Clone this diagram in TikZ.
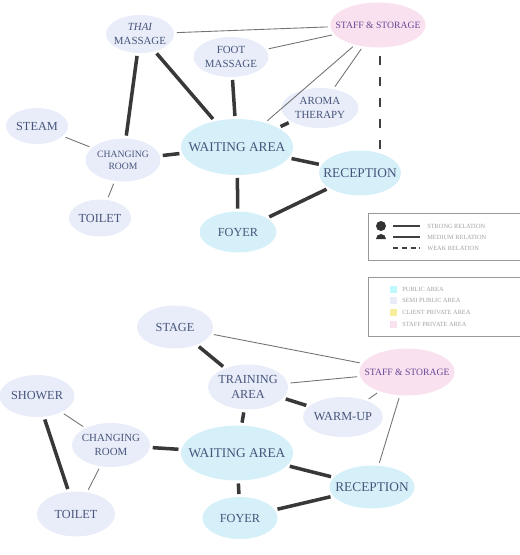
\documentclass[tikz,border=0pt]{standalone}
\usepackage{fontspec}
\setmainfont{Liberation Serif}
\usetikzlibrary{shapes.geometric}

\definecolor{publicfill}{HTML}{D6F0FA}
\definecolor{semifill}{HTML}{E9EDFA}
\definecolor{stafffill}{HTML}{FAE1EF}
\definecolor{clientfill}{HTML}{F6EE9C}
\definecolor{labeltext}{HTML}{46557A}
\definecolor{legendtext}{HTML}{A0A0A8}

\newcommand{\labelS}{\fontsize{5.5}{7}\selectfont}
\newcommand{\labelM}{\fontsize{6.2}{7.8}\selectfont}
\newcommand{\labelL}{\fontsize{7}{8.4}\selectfont}
\newcommand{\labelXL}{\fontsize{7.6}{9}\selectfont}

\tikzset{
  room/.style={ellipse, draw=none, inner sep=-5pt, align=center, text=labeltext},
  public/.style={room, fill=publicfill},
  semi/.style={room, fill=semifill},
  staff/.style={room, fill=stafffill, text=labeltext!80!magenta},
  strong/.style={line width=2pt, draw=black!78, shorten >=1.5pt, shorten <=1.5pt},
  minor/.style={line width=0.5pt, draw=black!55, shorten >=1.5pt, shorten <=1.5pt},
  weak/.style={line width=1.6pt, draw=black!75, dash pattern=on 5pt off 7pt},
  legendbox/.style={draw=black!40, line width=0.4pt},
  legendlabel/.style={anchor=west, inner sep=0pt, text=legendtext, font=\fontsize{3.6}{4}\selectfont},
  swatch/.style={draw=none, minimum size=0.14cm, inner sep=0pt}
}

\begin{document}
\begin{tikzpicture}[x=0.02cm, y=-0.02cm]
  \useasboundingbox (0,0) rectangle (520,555);

  % Nodes, spa plan
  \node (thai) [semi, font=\labelM, minimum width=1.36cm, minimum height=0.76cm] at (140,34) {\itshape THAI\\MASSAGE};
  \node (staff-a) [staff, font=\labelS, minimum width=1.64cm, minimum height=0.9cm] at (378,25) {STAFF \& STORAGE};
  \node (foot) [semi, font=\labelM, minimum width=1.5cm, minimum height=0.8cm] at (231,57) {FOOT\\MASSAGE};
  \node (aroma) [semi, font=\labelM, minimum width=1.54cm, minimum height=0.8cm] at (320,108) {AROMA\\THERAPY};
  \node (steam) [semi, font=\labelL, minimum width=1.24cm, minimum height=0.72cm] at (37,126) {STEAM};
  \node (changing-a) [semi, font=\labelS, minimum width=1.5cm, minimum height=0.86cm] at (123,160) {CHANGING\\ROOM};
  \node (waiting-a) [public, font=\labelXL, minimum width=2.24cm, minimum height=1.12cm] at (237,147) {WAITING AREA};
  \node (reception-a) [public, font=\labelXL, minimum width=1.64cm, minimum height=0.9cm] at (360,173) {RECEPTION};
  \node (toilet-a) [semi, font=\labelL, minimum width=1.24cm, minimum height=0.74cm] at (100,218) {TOILET};
  \node (foyer-a) [public, font=\labelL, minimum width=1.54cm, minimum height=0.82cm] at (238,232) {FOYER};

  % Edges, spa plan
  \draw[minor] (thai) -- (staff-a);
  \draw[minor] (foot) -- (staff-a);
  \draw[minor] (waiting-a) -- (staff-a);
  \draw[minor] (aroma) -- (staff-a);
  \draw[weak] (staff-a.south) ++(2,8) coordinate (weak-top) -- (weak-top |- reception-a.north);
  \draw[strong] (thai) -- (changing-a);
  \draw[strong] (thai) -- (waiting-a);
  \draw[strong] (foot) -- (waiting-a);
  \draw[strong] (aroma) -- (waiting-a);
  \draw[minor] (steam) -- (changing-a);
  \draw[strong] (changing-a) -- (waiting-a);
  \draw[minor] (changing-a) -- (toilet-a);
  \draw[strong] (waiting-a) -- (reception-a);
  \draw[strong] (waiting-a) -- (foyer-a);
  \draw[strong] (foyer-a) -- (reception-a);

  % Legend, relations
  \draw[legendbox] (525,213) -| (368,260) -- (525,260);
  \node (dot-strong) [circle, fill=black!80, minimum size=0.2cm, inner sep=0pt] at (381,226) {};
  \node (dot-medium) [semicircle, fill=black!80, minimum width=0.2cm, inner sep=0pt] at (381,237) {};
  \coordinate (line-strong) at (393,226);
  \coordinate (line-medium) at (393,237);
  \coordinate (line-weak) at (393,248);
  \node (txt-strong) [legendlabel] at (427,226) {STRONG RELATION};
  \node (txt-medium) [legendlabel] at (427,237) {MEDIUM RELATION};
  \node (txt-weak) [legendlabel] at (427,248) {WEAK RELATION};
  \draw[line width=1.6pt, draw=black!75] (line-strong) -- (txt-strong.west -| 420,0);
  \draw[line width=0.6pt, draw=black!75] (line-medium) -- (txt-medium.west -| 420,0);
  \draw[line width=0.7pt, draw=black!75, dash pattern=on 3pt off 2pt] (line-weak) -- (txt-weak.west -| 420,0);

  % Legend, areas
  \draw[legendbox] (525,277) -| (368,336) -- (525,336);
  \node (sw-public) [swatch, fill=publicfill!70!cyan!60] at (393,289) {};
  \node (sw-semi) [swatch, fill=semifill] at (393,300) {};
  \node (sw-client) [swatch, fill=clientfill] at (393,312) {};
  \node (sw-staff) [swatch, fill=stafffill] at (393,324) {};
  \node (txt-public) [legendlabel] at (402,289) {PUBLIC AREA};
  \node (txt-semi) [legendlabel] at (402,300) {SEMI PUBLIC AREA};
  \node (txt-client) [legendlabel] at (402,312) {CLIENT PRIVATE AREA};
  \node (txt-staff) [legendlabel] at (402,324) {STAFF PRIVATE AREA};

  % Nodes, studio plan
  \node (stage) [semi, font=\labelL, minimum width=1.52cm, minimum height=0.86cm] at (175,327) {STAGE};
  \node (staff-b) [staff, font=\labelS, minimum width=1.7cm, minimum height=0.94cm] at (407,372) {STAFF \& STORAGE};
  \node (training) [semi, font=\labelL, minimum width=1.6cm, minimum height=0.9cm] at (248,387) {TRAINING\\AREA};
  \node (shower) [semi, font=\labelL, minimum width=1.5cm, minimum height=0.84cm] at (37,396) {SHOWER};
  \node (warm-up) [semi, font=\labelL, minimum width=1.6cm, minimum height=0.8cm] at (343,417) {WARM-UP};
  \node (changing-b) [semi, font=\labelM, minimum width=1.56cm, minimum height=0.88cm] at (111,445) {CHANGING\\ROOM};
  \node (waiting-b) [public, font=\labelXL, minimum width=2.14cm, minimum height=1.1cm] at (237,453) {WAITING AREA};
  \node (reception-b) [public, font=\labelXL, minimum width=1.7cm, minimum height=0.86cm] at (372,487) {RECEPTION};
  \node (toilet-b) [semi, font=\labelL, minimum width=1.56cm, minimum height=0.9cm] at (76,514) {TOILET};
  \node (foyer-b) [public, font=\labelL, minimum width=1.5cm, minimum height=0.84cm] at (240,518) {FOYER};

  % Edges, studio plan
  \draw[minor] (stage) -- (staff-b);
  \draw[strong] (stage) -- (training);
  \draw[minor] (training) -- (staff-b);
  \draw[strong] (training) -- (warm-up);
  \draw[minor] (warm-up) -- (staff-b);
  \draw[strong] (training) -- (waiting-b);
  \draw[minor] (shower) -- (changing-b);
  \draw[strong] (shower) -- (toilet-b);
  \draw[minor] (changing-b) -- (toilet-b);
  \draw[strong] (changing-b) -- (waiting-b);
  \draw[strong] (waiting-b) -- (reception-b);
  \draw[strong] (waiting-b) -- (foyer-b);
  \draw[strong] (foyer-b) -- (reception-b);
  \draw[minor] (reception-b) -- (staff-b);
\end{tikzpicture}
\end{document}
